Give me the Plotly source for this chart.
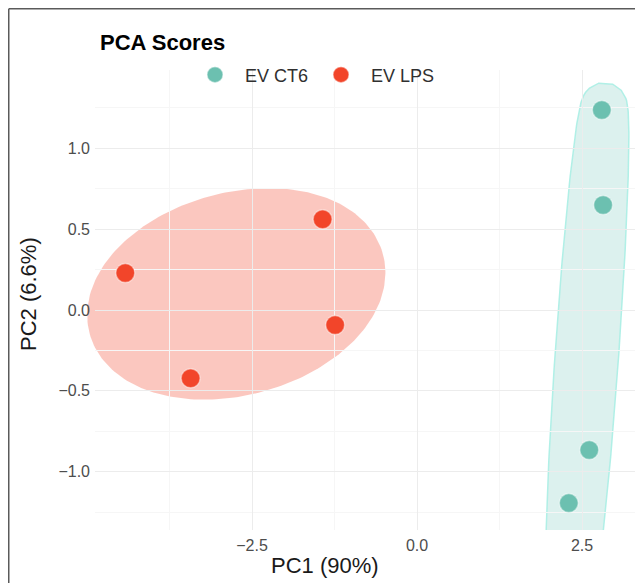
import numpy as np
import plotly.graph_objects as go

# ---------------- data ----------------
groups = ["EV CT6", "EV LPS"]
ct6_pc1 = [2.80, 2.82, 2.61, 2.30]
ct6_pc2 = [1.237, 0.649, -0.866, -1.194]
lps_pc1 = [-4.42, -1.43, -1.24, -3.43]
lps_pc2 = [0.229, 0.561, -0.093, -0.422]
x_tick_vals = [-2.5, 0.0, 2.5]
y_tick_vals = [-1.0, -0.5, 0.0, 0.5, 1.0]
x_title = "PC1 (90%)"
y_title = "PC2 (6.6%)"
chart_title = "PCA Scores"

# ---------------- layout geometry / style ----------------
W, H = 635, 575
OFF = 8                        # page body margin
ML, MR, MT, MB = 52, 7, 54, 35  # outer drawing area
PW, PH = W - ML - MR, H - MT - MB
X0_PX, X_UNIT = 417, 66.0       # screen x of PC1 = 0, px per unit
Y0_PX, Y_UNIT = 310, 161.7      # screen y of PC2 = 0, px per unit
PANEL = dict(left=95, right=636, top=70, bottom=530)   # screen px of the gridded panel
EXPAND = 22                     # px offset of the enclosing ellipses
colors = {"EV CT6": "#6cc0b0", "EV LPS": "#f2452a"}
fills = {"EV CT6": "rgba(114,200,186,0.25)", "EV LPS": "rgba(242,71,43,0.30)"}
outlines = {"EV CT6": "rgba(170,238,228,0.9)", "EV LPS": "rgba(242,71,43,0.0)"}
FONT = "Liberation Sans, Arial, sans-serif"


def xp(sx):  # screen x -> paper
    return (sx - OFF - ML) / PW


def yp(sy):  # screen y -> paper
    return (H - MB - (sy - OFF)) / PH


def xval(sx):
    return (sx - X0_PX) / X_UNIT


def yval(sy):
    return (Y0_PX - sy) / Y_UNIT


outer_left, outer_right = OFF + ML, OFF + ML + PW
outer_top = OFF + MT
XR_OUT = [xval(outer_left), xval(outer_right)]
YR_OUT = [yval(PANEL["bottom"]), yval(outer_top)]
XR = [xval(PANEL["left"]), xval(PANEL["right"])]
YR = [yval(PANEL["bottom"]), yval(PANEL["top"])]


def khachiyan(P, tol=0.01):
    """Minimum-area enclosing ellipse (Khachiyan), as in ggforce::geom_mark_ellipse."""
    n, d = P.shape
    Q = np.vstack([P.T, np.ones(n)])
    u = np.ones(n) / n
    err = 1.0
    it = 0
    while err > tol and it < 20000:
        X = Q @ np.diag(u) @ Q.T
        M = np.einsum("ij,jk,ki->i", Q.T, np.linalg.inv(X), Q)
        j = int(np.argmax(M))
        mx = M[j]
        step = (mx - d - 1.0) / ((d + 1.0) * (mx - 1.0))
        nu = (1 - step) * u
        nu[j] += step
        err = np.linalg.norm(nu - u)
        u = nu
        it += 1
    c = P.T @ u
    A = np.linalg.inv(P.T @ np.diag(u) @ P - np.outer(c, c)) / d
    return c, A


def mark_ellipse(xs, ys, expand, n=240):
    P = np.column_stack([np.asarray(xs) * X_UNIT, np.asarray(ys) * Y_UNIT])
    c, A = khachiyan(P)
    vals, vecs = np.linalg.eigh(A)
    ax = 1 / np.sqrt(vals)
    t = np.linspace(0, 2 * np.pi, n)
    pts = (vecs @ np.vstack([ax[0] * np.cos(t), ax[1] * np.sin(t)])).T
    normals = (A @ pts.T).T
    normals /= np.linalg.norm(normals, axis=1)[:, None]
    out = c + pts + expand * normals
    return out[:, 0] / X_UNIT, out[:, 1] / Y_UNIT


data = {"EV CT6": (ct6_pc1, ct6_pc2), "EV LPS": (lps_pc1, lps_pc2)}

fig = go.Figure()
# enclosing ellipses on an (invisible) axis pair with the same scale
for g in groups:
    ex, ey = mark_ellipse(*data[g], expand=EXPAND)
    fig.add_trace(go.Scatter(
        x=ex, y=ey, xaxis="x", yaxis="y", mode="lines", fill="toself", fillcolor=fills[g],
        line=dict(color=outlines[g], width=1.5), hoverinfo="skip", showlegend=False,
    ))
# score points on the gridded panel axes
for g in groups:
    xs, ys = data[g]
    fig.add_trace(go.Scatter(
        x=xs, y=ys, xaxis="x2", yaxis="y2", mode="markers", name=g,
        marker=dict(size=19, color=colors[g], line=dict(width=1.5, color="rgba(255,255,255,0.45)")),
    ))

axis_common = dict(
    showline=False, zeroline=False, ticks="", showgrid=True,
    gridcolor="#ececec", gridwidth=1,
    tickfont=dict(family=FONT, size=16, color="#4d4d4d"),
)
fig.update_layout(
    xaxis=dict(domain=[0, 1], range=XR_OUT, visible=False, anchor="y", fixedrange=True),
    yaxis=dict(domain=[yp(PANEL["bottom"]), 1], range=YR_OUT, visible=False, anchor="x", fixedrange=True),
    xaxis2=dict(
        domain=[xp(PANEL["left"]), xp(PANEL["right"])], range=XR, anchor="y2",
        tickmode="array", tickvals=x_tick_vals,
        ticktext=[f"{v:.1f}".replace("-", "\u2212") for v in x_tick_vals],
        minor=dict(tickmode="linear", tick0=0, dtick=1.25, showgrid=True, gridcolor="#f6f6f6", gridwidth=1),
        ticklabelstandoff=4, **axis_common,
    ),
    yaxis2=dict(
        domain=[yp(PANEL["bottom"]), yp(PANEL["top"])], range=YR, anchor="x2",
        tickmode="array", tickvals=y_tick_vals,
        ticktext=[f"{v:.1f}".replace("-", "\u2212") for v in y_tick_vals],
        minor=dict(tickmode="linear", tick0=0, dtick=0.25, showgrid=True, gridcolor="#f6f6f6", gridwidth=1),
        ticklabelstandoff=4, **axis_common,
    ),
)

title_font = dict(family=FONT, size=22, color="#1a1a1a")
fig.add_annotation(text=x_title, xref="paper", yref="paper", x=xp(325), y=yp(565),
                   xanchor="center", yanchor="middle", showarrow=False, font=title_font)
fig.add_annotation(text=y_title, xref="paper", yref="paper", x=xp(28), y=yp(294),
                   xanchor="center", yanchor="middle", textangle=-90, showarrow=False, font=title_font)

# outer frame (top and left edges of the figure border)
fx0 = xp(OFF + 0.75)
fy_top = yp(OFF + 0.75)
fig.add_shape(type="line", xref="paper", yref="paper", x0=fx0, x1=xp(OFF + W),
              y0=fy_top, y1=fy_top, line=dict(color="#5a5a5a", width=1.5))
fig.add_shape(type="line", xref="paper", yref="paper", x0=fx0, x1=fx0,
              y0=fy_top, y1=yp(OFF + H), line=dict(color="#5a5a5a", width=1.5))

fig.update_layout(
    width=W, height=H, autosize=False,
    margin=dict(l=ML, r=MR, t=MT, b=MB, autoexpand=False),
    paper_bgcolor="white", plot_bgcolor="rgba(0,0,0,0)",
    font=dict(family=FONT),
    title=dict(text=f"<b>{chart_title}</b>", x=(100 - OFF) / W, xanchor="left", xref="container",
               y=1 - (42 - OFF) / H, yanchor="middle", yref="container",
               font=dict(family=FONT, size=22, color="black")),
    legend=dict(orientation="h", x=xp(185), xanchor="left", y=yp(75),
                yanchor="middle", font=dict(family=FONT, size=18, color="#303030"),
                bgcolor="rgba(0,0,0,0)", itemwidth=50, entrywidth=61, entrywidthmode="pixels"),
)

fig.write_html("out.html")
